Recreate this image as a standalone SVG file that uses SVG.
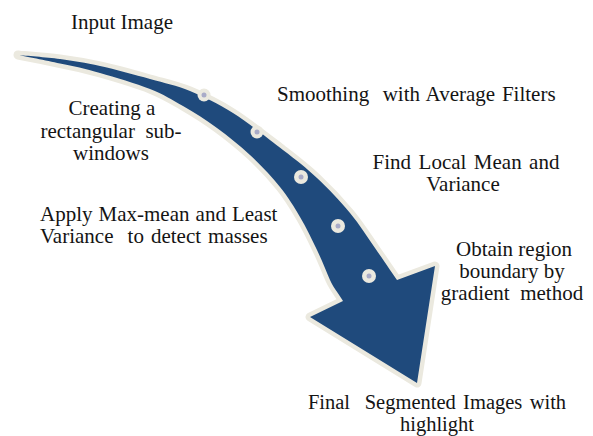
<svg xmlns="http://www.w3.org/2000/svg" xmlns:xlink="http://www.w3.org/1999/xlink" width="593" height="436" viewBox="0 0 593 436">
<style>
  .lbl { font-family: "Liberation Serif", "Times New Roman", serif; font-size: 21px; fill: #141414; }
  .mid { text-anchor: middle; }
  .sm { font-size: 20.5px; }
  .ring { fill: #ebe9df; }
  .core { fill: #a9abc8; }
</style>
<defs>
  <path id="arrowShape" d="M18,55 C25,55.7 46.3,57.2 60,59 C73.7,60.8 85,62.7 100,66 C115,69.3 135,74.8 150,79 C165,83.2 176.2,85.3 190,91 C203.8,96.7 217.5,103.2 233,113 C248.5,122.8 269,139.2 283,150 C297,160.8 305.8,167.5 317,178 C328.2,188.5 340.3,201.3 350,213 C359.7,224.7 367.2,236.8 375,248 C382.8,259.2 393.3,274.7 397,280 L435,266 L417,383 L310,317 L343,301 C341.3,297.3 333.8,288.7 330,280 C326.2,271.3 322,260.5 317,250 C312,239.5 306.2,227.5 300,217 C293.8,206.5 288.3,197.3 280,187 C271.7,176.7 260.5,164.8 250,155 C239.5,145.2 228.2,136.2 217,128 C205.8,119.8 194.2,112.5 183,106 C171.8,99.5 163.8,94.5 150,89 C136.2,83.5 115,77.3 100,73 C85,68.7 73.7,66 60,63.5 C46.3,60.5 25,56.3 18,55 Z"/>
</defs>
<g id="connectors">
  <use xlink:href="#arrowShape" fill="#ebe9df" stroke="#ebe9df" stroke-width="9" stroke-linejoin="round"/>
  <use xlink:href="#arrowShape" fill="#1f4a7c"/>
  <g id="dots">
    <circle class="ring" cx="204" cy="95" r="6.5"/><circle class="core" cx="204" cy="95" r="2.5"/>
    <circle class="ring" cx="257" cy="132" r="6.5"/><circle class="core" cx="257" cy="132" r="2.5"/>
    <circle class="ring" cx="301" cy="177" r="7"/><circle class="core" cx="301" cy="177" r="2.5"/>
    <circle class="ring" cx="338" cy="226" r="7"/><circle class="core" cx="338" cy="226" r="2.5"/>
    <circle class="ring" cx="369" cy="276" r="7"/><circle class="core" cx="369" cy="276" r="2.5"/>
  </g>
</g>
<g id="node-input"><text class="lbl mid" x="122" y="29">Input Image</text></g>
<g id="node-creating">
  <text class="lbl mid" x="112" y="115">Creating a</text>
  <text class="lbl mid" x="111" y="138" xml:space="preserve">rectangular  sub-</text>
  <text class="lbl mid" x="111" y="160">windows</text>
</g>
<g id="node-smoothing"><text class="lbl" x="277" y="101" word-spacing="1.5" xml:space="preserve">Smoothing  with Average Filters</text></g>
<g id="node-localmean">
  <text class="lbl mid" x="466" y="169" word-spacing="2.2">Find Local Mean and</text>
  <text class="lbl mid" x="463" y="191">Variance</text>
</g>
<g id="node-apply">
  <text class="lbl" x="40" y="221" word-spacing="0.8">Apply Max-mean and Least</text>
  <text class="lbl" x="40" y="243" word-spacing="1.8" xml:space="preserve">Variance  to detect masses</text>
</g>
<g id="node-boundary">
  <text class="lbl mid" x="514" y="256">Obtain region</text>
  <text class="lbl mid" x="512" y="278">boundary by</text>
  <text class="lbl mid" x="512" y="300" xml:space="preserve">gradient  method</text>
</g>
<g id="node-final">
  <text class="lbl mid sm" x="437" y="408.5" word-spacing="2.2" xml:space="preserve">Final  Segmented Images with</text>
  <text class="lbl mid sm" x="437" y="431.3">highlight</text>
</g>
</svg>
